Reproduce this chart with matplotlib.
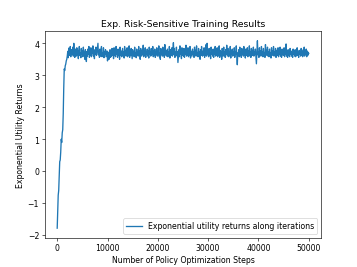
import matplotlib
matplotlib.use("Agg")
import matplotlib.pyplot as plt
import numpy as np

# early training (every 100 steps, 0 .. 1900)
rise_steps = list(range(0, 2000, 100))
rise_vals = [-1.78, -1.3, -0.75, -0.6, -0.1, 0.3, 0.35, 0.6, 1.0, 0.9,
             1.2, 1.3, 1.8, 2.6, 3.2, 3.15, 3.3, 3.35, 3.45, 3.5]

# plateau (every 100 steps, 2000 .. 50000)
plateau_steps = list(range(2000, 50001, 100))
plateau_vals = [
    3.6, 3.75, 3.55, 3.85, 3.62, 3.7, 3.9, 3.58, 3.8, 3.66,
    3.72, 3.88, 3.6, 4.0, 3.65, 3.56, 3.82, 3.7, 3.6, 3.86,
    3.64, 3.78, 3.52, 3.74, 3.9, 3.62, 3.7, 3.55, 3.84, 3.66,
    3.76, 3.58, 3.88, 3.62, 3.72, 3.5, 3.8, 3.68, 3.43, 3.74,
    3.6, 3.82, 3.66, 3.9, 3.56, 3.72, 3.64, 3.86, 3.58, 3.76,
    3.68, 3.92, 3.6, 3.74, 3.52, 3.8, 3.66, 3.88, 3.62, 3.7,
    3.84, 4.0, 3.64, 3.76, 3.56, 3.82, 3.6, 3.72, 3.9, 3.58,
    3.7, 3.62, 3.86, 3.55, 3.74, 3.66, 3.8, 3.58, 3.68, 3.76,
    3.45, 3.62, 3.72, 3.5, 3.66, 3.8, 3.56, 3.7, 3.6, 3.84,
    3.64, 3.76, 3.52, 3.86, 3.62, 3.7, 3.58, 3.9, 3.66, 3.74,
    3.56, 3.82, 3.64, 3.72, 3.5, 3.88, 3.62, 3.76, 3.58, 3.7,
    3.84, 3.6, 3.74, 3.54, 3.9, 3.66, 3.78, 3.6, 3.7, 3.86,
    3.58, 3.72, 3.64, 3.92, 3.56, 3.76, 3.62, 3.84, 3.68, 3.52,
    3.8, 3.66, 3.74, 3.58, 3.88, 3.62, 3.7, 3.55, 3.82, 3.66,
    3.74, 3.6, 3.9, 3.64, 3.76, 3.5, 3.84, 3.68, 3.6, 3.78,
    3.66, 3.94, 3.58, 3.72, 3.62, 3.86, 3.56, 3.74, 3.68, 3.82,
    3.6, 3.76, 3.54, 3.88, 3.66, 3.72, 3.6, 3.84, 3.64, 3.7,
    3.9, 3.58, 3.76, 3.62, 3.82, 3.56, 3.72, 3.66, 3.86, 3.6,
    3.74, 3.64, 3.92, 3.58, 3.7, 3.5, 3.84, 3.66, 3.76, 3.6,
    3.88, 3.62, 3.72, 3.56, 3.96, 3.64, 3.78, 3.6, 3.7, 3.82,
    3.58, 3.74, 3.66, 3.9, 3.54, 3.8, 3.62, 3.72, 3.86, 3.6,
    3.76, 4.02, 3.64, 3.84, 3.56, 3.72, 3.6, 3.88, 3.66, 3.74,
    3.4, 3.62, 3.8, 3.58, 3.92, 3.66, 3.74, 3.52, 3.86, 3.64,
    3.7, 3.6, 3.84, 3.56, 3.78, 3.66, 3.94, 3.6, 3.72, 3.62,
    3.86, 3.58, 3.74, 3.64, 3.9, 3.54, 3.76, 3.68, 3.6, 3.82,
    3.66, 3.72, 3.56, 3.88, 3.62, 3.78, 3.6, 3.92, 3.64, 3.7,
    3.58, 3.84, 3.66, 3.74, 3.5, 3.8, 3.62, 3.9, 3.68, 3.6,
    3.76, 3.64, 3.86, 3.56, 3.72, 3.62, 3.96, 3.6, 4.0, 3.66,
    3.74, 3.58, 3.84, 3.64, 3.7, 3.52, 3.88, 3.66, 3.76, 3.6,
    3.82, 3.56, 3.72, 3.66, 3.9, 3.6, 3.76, 3.62, 3.86, 3.58,
    3.7, 3.64, 3.92, 3.56, 3.78, 3.62, 3.74, 3.5, 3.84, 3.66,
    3.6, 3.88, 3.62, 3.74, 3.56, 3.8, 3.66, 3.94, 3.6, 3.72,
    3.84, 3.58, 3.7, 3.64, 3.9, 3.54, 3.76, 3.66, 3.82, 3.6,
    3.72, 3.62, 3.86, 3.56, 3.74, 3.66, 3.92, 3.6, 3.33, 3.7,
    3.64, 3.8, 3.58, 3.88, 3.62, 3.72, 3.56, 3.84, 3.66, 3.76,
    3.6, 3.9, 3.64, 3.74, 3.54, 3.82, 3.62, 3.7, 3.86, 3.58,
    3.76, 3.66, 3.92, 3.6, 3.72, 3.56, 3.84, 3.64, 3.78, 3.62,
    3.88, 3.6, 3.74, 3.66, 3.82, 3.58, 3.36, 3.7, 4.08, 3.64,
    3.72, 3.56, 3.86, 3.62, 3.76, 3.6, 3.9, 3.66, 3.74, 3.58,
    3.84, 3.64, 3.7, 3.56, 3.96, 3.62, 3.78, 3.66, 3.88, 3.6,
    3.74, 3.58, 3.82, 3.64, 3.7, 3.54, 3.86, 3.62, 3.76, 3.66,
    3.9, 3.6, 3.72, 3.64, 3.84, 3.56, 3.78, 3.62, 3.7, 3.86,
    3.58, 3.74, 3.66, 3.88, 3.6, 3.72, 3.56, 3.82, 3.64, 3.76,
    3.62, 3.86, 3.58, 3.7, 3.66, 3.98, 3.6, 3.74, 3.56, 3.8,
    3.64, 3.72, 3.58, 3.84, 3.66, 3.76, 3.6, 3.7, 3.56, 3.82,
    3.66, 3.74, 3.6, 3.8, 3.58, 3.72, 3.64, 3.86, 3.62, 3.7,
    3.56, 3.78, 3.66, 3.74, 3.6, 3.84, 3.62, 3.72, 3.58, 3.8,
    3.64, 3.88, 3.6, 3.74, 3.66, 3.82, 3.58, 3.76, 3.62, 3.72,
    3.68,
]

steps = np.array(rise_steps + plateau_steps)
returns = np.array(rise_vals + plateau_vals)

plt.figure(figsize=(6.4, 4.8), dpi=357 / 6.4)
plt.plot(steps, returns, linewidth=1.7,
         label="Exponential utility returns along iterations")
plt.title("Exp. Risk-Sensitive Training Results")
plt.xlabel("Number of Policy Optimization Steps")
plt.ylabel("Exponential Utility Returns")
plt.legend(loc="lower right")

plt.savefig("out.png")
